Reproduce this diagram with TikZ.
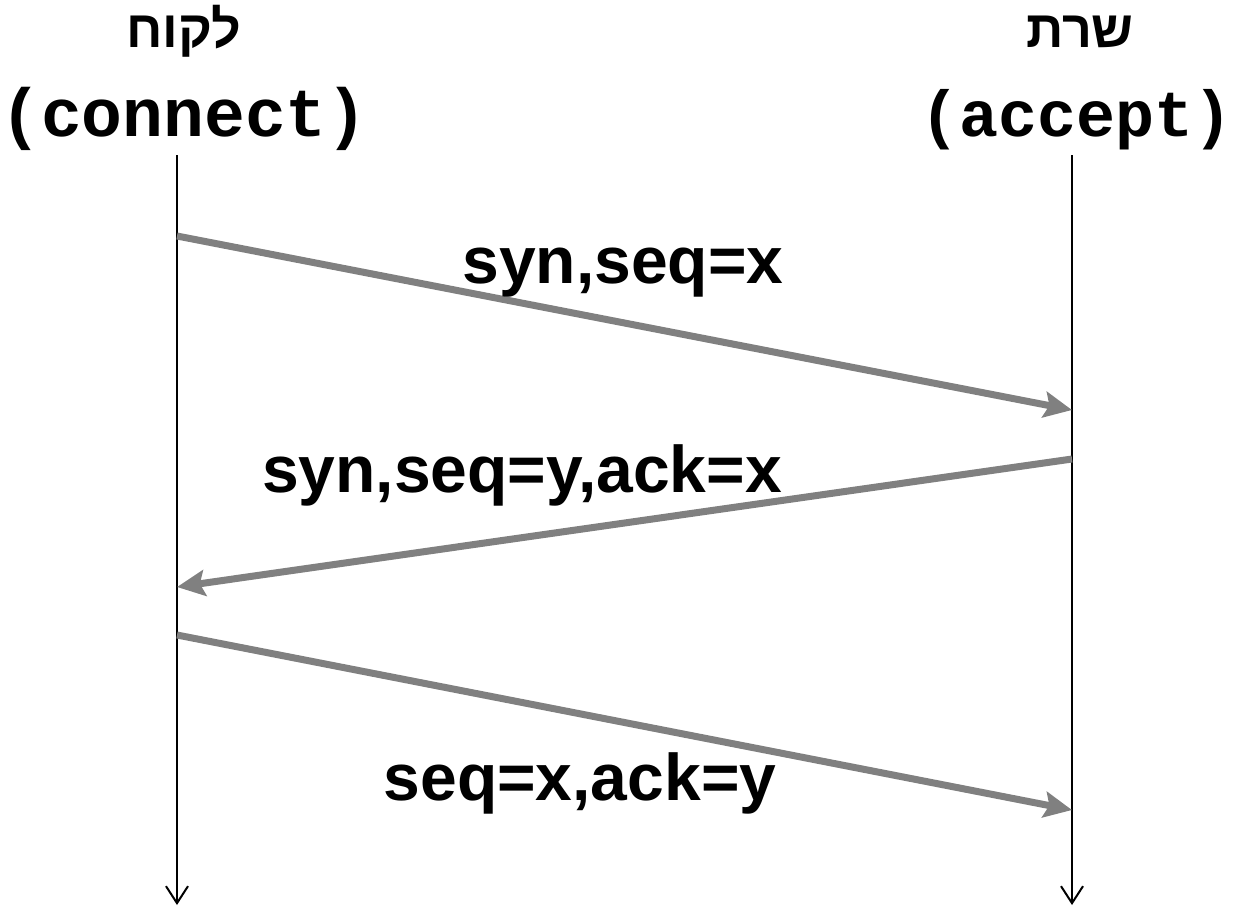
\documentclass[tikz,border=0pt]{standalone}
\usepackage{fontspec}
\setmainfont{Liberation Sans}
\setmonofont{Liberation Mono}
\newfontfamily\hebfont[Script=Hebrew]{Liberation Sans}
\TeXXeTstate=1
\usetikzlibrary{arrows.meta}
\begin{document}
\begin{tikzpicture}[x=1pt,y=-1pt,
  party/.style={font=\hebfont\bfseries\fontsize{52}{62}\selectfont, anchor=base, inner sep=0pt},
  apicall/.style={font=\ttfamily\bfseries\fontsize{#1}{80}\selectfont, anchor=base, inner sep=0pt},
  msg/.style={font=\bfseries\fontsize{66}{80}\selectfont, anchor=base, inner sep=0pt},
  timeline/.style={line width=2pt, -{Straight Barb[length=17pt,width=22pt,line width=2pt]}},
  packet/.style={line width=7pt, draw=black!50, -{Stealth[length=28pt,width=26pt,inset=5pt]}}]
  \useasboundingbox (0,0) rectangle (1240,908);

  % participants
  \node[party] (clientname) at (184,47) {\beginR לקוח\endR};
  \node[party] (servername) at (1080,47) {\beginR שרת\endR};
  \node[apicall=68] (clientcall) at (184,136) {(connect)};
  \node[apicall=65] (servercall) at (1077,136) {(accept)};

  % time axes
  \coordinate (ctop) at (177,155);
  \coordinate (cbot) at (177,905);
  \coordinate (stop) at (1072,155);
  \coordinate (sbot) at (1072,905);
  \draw[timeline] (ctop) -- (cbot);
  \draw[timeline] (stop) -- (sbot);

  % handshake messages
  \coordinate (c1) at (177,236);
  \coordinate (s1) at (1072,410);
  \coordinate (s2) at (1072,459);
  \coordinate (c2) at (177,587);
  \coordinate (c3) at (177,635);
  \coordinate (s3) at (1072,810);
  \draw[packet] (c1) -- (s1);
  \draw[packet] (s2) -- (c2);
  \draw[packet] (c3) -- (s3);

  \node[msg] (m1) at (623,283) {syn,seq=x};
  \node[msg] (m2) at (522,492) {syn,seq=y,ack=x};
  \node[msg] (m3) at (580,800) {seq=x,ack=y};
\end{tikzpicture}
\end{document}
